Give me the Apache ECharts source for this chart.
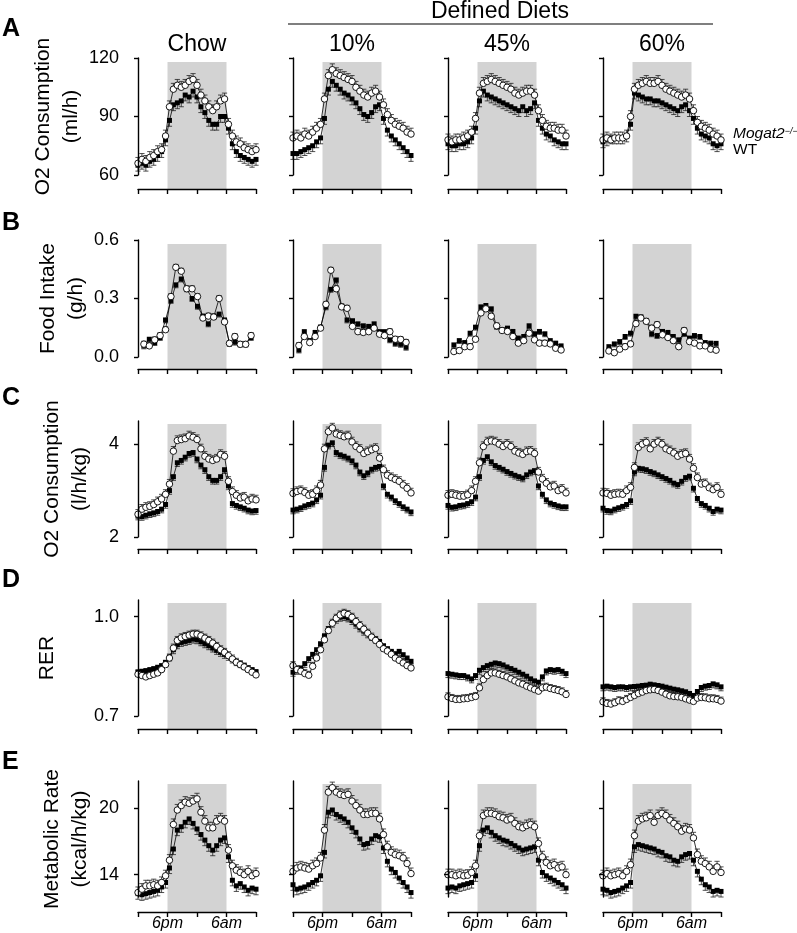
<!DOCTYPE html>
<html>
<head>
<meta charset="utf-8">
<script src="https://cdn.jsdelivr.net/npm/echarts@6/dist/echarts.min.js"></script>
<style>html,body{margin:0;padding:0;background:#fff;}#chart{width:797px;height:933px;}</style>
</head>
<body>
<div id="chart"></div>
<script>
// ---------------- DATA ----------------
const dietNames = ['Chow', '10%', '45%', '60%'];
const groupNames = ['Mogat2\u2212/\u2212', 'WT'];
const darkPeriod = [6, 18];            // hours after 12pm (6pm .. 6am)
const xTickValues = [0, 6, 12, 18, 24];
const xLabelValues = [6, 18];
const xLabelTexts = ['6pm', '6am'];

const hoursMet = [0, 0.8, 1.6, 2.4, 3.2, 4, 4.8, 5.6, 6.4, 7.2, 8, 8.8, 9.6, 10.4, 11.2, 12, 12.8, 13.6, 14.4, 15.2, 16, 16.8, 17.6, 18.4, 19.2, 20, 20.8, 21.6, 22.4, 23.2, 24];
const hoursFood = [1.2, 2.3, 3.4, 4.5, 5.6, 6.7, 7.7, 8.8, 9.9, 11.0, 12.1, 13.2, 14.3, 15.4, 16.5, 17.6, 18.6, 19.7, 20.8, 21.9, 23.0];

// A: O2 consumption (ml/h)
const o2ml_chow_ko = [66, 68, 67, 69, 70, 72, 73, 80, 95, 104, 106, 105, 106, 108, 109, 106, 101, 98, 95, 93, 95, 98, 99, 86, 80, 77, 76, 74, 73, 72, 73];
const o2ml_chow_wt = [65, 66, 65, 67, 68, 70, 72, 78, 88, 96, 97, 98, 101, 100, 103, 100, 95, 92, 88, 86, 86, 90, 90, 84, 76, 72, 70, 69, 68, 67, 68];
const o2ml_10_ko = [79, 80, 79, 81, 80, 82, 84, 86, 99, 111, 114, 112, 111, 110, 109, 108, 105, 103, 101, 100, 102, 103, 100, 96, 91, 88, 86, 85, 84, 82, 81];
const o2ml_10_wt = [71, 71, 72, 73, 74, 75, 77, 79, 89, 104, 108, 106, 104, 102, 101, 99, 97, 94, 91, 90, 92, 95, 96, 89, 83, 80, 78, 76, 74, 72, 70];
const o2ml_45_ko = [78, 77, 78, 78, 79, 80, 82, 89, 102, 107, 108, 109, 108, 107, 106, 105, 104, 102, 101, 102, 103, 103, 101, 93, 88, 85, 84, 84, 83, 83, 80];
const o2ml_45_wt = [76, 75, 75, 76, 76, 77, 79, 84, 98, 103, 101, 100, 99, 98, 97, 96, 95, 94, 93, 95, 93, 94, 97, 88, 84, 81, 80, 78, 77, 76, 76];
const o2ml_60_ko = [78, 79, 78, 79, 79, 79, 80, 90, 104, 106, 107, 108, 107, 107, 108, 106, 104, 103, 102, 101, 100, 101, 99, 93, 87, 85, 84, 83, 81, 80, 78];
const o2ml_60_wt = [77, 78, 79, 79, 79, 79, 80, 86, 102, 101, 100, 99, 99, 98, 98, 97, 96, 95, 94, 93, 95, 96, 93, 89, 84, 81, 80, 79, 76, 75, 76];

// B: Food intake (g/h)
const food_chow_ko = [0.066, 0.057, 0.088, 0.11, 0.14, 0.31, 0.46, 0.44, 0.35, 0.35, 0.31, 0.20, 0.21, 0.205, 0.30, 0.18, 0.07, 0.105, 0.065, 0.065, 0.11];
const food_chow_wt = [0.057, 0.091, 0.074, 0.10, 0.19, 0.29, 0.37, 0.40, 0.35, 0.30, 0.26, 0.21, 0.17, 0.21, 0.22, 0.19, 0.07, 0.076, 0.067, 0.067, 0.10];
const food_10_ko = [0.059, 0.105, 0.074, 0.105, 0.148, 0.27, 0.445, 0.35, 0.257, 0.25, 0.157, 0.13, 0.126, 0.13, 0.148, 0.117, 0.11, 0.13, 0.091, 0.09, 0.075];
const food_10_wt = [0.036, 0.13, 0.084, 0.126, 0.153, 0.257, 0.347, 0.395, 0.26, 0.19, 0.186, 0.17, 0.16, 0.157, 0.17, 0.13, 0.13, 0.088, 0.07, 0.065, 0.05];
const food_45_ko = [0.028, 0.033, 0.053, 0.053, 0.091, 0.226, 0.247, 0.209, 0.16, 0.136, 0.131, 0.105, 0.071, 0.084, 0.122, 0.088, 0.071, 0.071, 0.067, 0.045, 0.036];
const food_45_wt = [0.062, 0.084, 0.074, 0.122, 0.153, 0.257, 0.264, 0.247, 0.157, 0.14, 0.148, 0.131, 0.097, 0.105, 0.16, 0.119, 0.131, 0.119, 0.084, 0.071, 0.057];
const food_60_ko = [0.031, 0.022, 0.04, 0.053, 0.067, 0.171, 0.2, 0.183, 0.148, 0.166, 0.114, 0.1, 0.084, 0.053, 0.136, 0.079, 0.071, 0.057, 0.057, 0.04, 0.035];
const food_60_wt = [0.053, 0.067, 0.079, 0.105, 0.122, 0.209, 0.205, 0.186, 0.119, 0.11, 0.131, 0.126, 0.105, 0.088, 0.12, 0.097, 0.11, 0.105, 0.074, 0.071, 0.07];

// C: O2 consumption (l/h/kg)
const o2kg_chow_ko = [2.49, 2.6, 2.64, 2.66, 2.7, 2.76, 2.82, 2.92, 3.14, 3.85, 4.08, 4.1, 4.12, 4.18, 4.15, 4.1, 3.9, 3.74, 3.68, 3.65, 3.68, 3.78, 3.74, 3.2, 2.98, 2.9, 2.84, 2.86, 2.78, 2.82, 2.8];
const o2kg_chow_wt = [2.45, 2.44, 2.47, 2.5, 2.52, 2.55, 2.6, 2.7, 3.0, 3.3, 3.6, 3.65, 3.72, 3.8, 3.82, 3.68, 3.55, 3.45, 3.3, 3.22, 3.22, 3.3, 3.45, 3.1, 2.72, 2.68, 2.65, 2.62, 2.58, 2.56, 2.57];
const o2kg_10_ko = [2.94, 2.98, 3.0, 2.96, 2.9, 2.92, 3.0, 3.12, 3.9, 4.27, 4.35, 4.22, 4.19, 4.16, 4.18, 4.05, 3.95, 3.89, 3.8, 3.84, 3.88, 3.91, 3.7, 3.45, 3.33, 3.28, 3.24, 3.2, 3.12, 3.05, 2.95];
const o2kg_10_wt = [2.58, 2.6, 2.63, 2.67, 2.7, 2.73, 2.8, 2.9, 3.5, 3.98, 4.03, 3.82, 3.77, 3.74, 3.7, 3.64, 3.55, 3.4, 3.32, 3.38, 3.46, 3.5, 3.52, 3.1, 2.92, 2.86, 2.78, 2.72, 2.65, 2.6, 2.54];
const o2kg_45_ko = [2.9, 2.92, 2.9, 2.88, 2.88, 2.91, 3.0, 3.2, 3.6, 3.95, 4.05, 4.07, 4.05, 4.0, 3.95, 4.0, 3.95, 3.85, 3.81, 3.78, 3.84, 3.85, 3.8, 3.4, 3.25, 3.16, 3.08, 3.1, 3.0, 3.03, 2.95];
const o2kg_45_wt = [2.68, 2.64, 2.65, 2.68, 2.69, 2.72, 2.76, 2.86, 3.3, 3.65, 3.73, 3.62, 3.54, 3.5, 3.46, 3.41, 3.37, 3.33, 3.3, 3.27, 3.34, 3.4, 3.43, 3.1, 2.92, 2.8, 2.73, 2.7, 2.67, 2.65, 2.65];
const o2kg_60_ko = [2.95, 2.94, 2.9, 2.92, 2.93, 2.92, 3.0, 3.07, 3.5, 3.93, 4.0, 4.04, 3.9, 4.0, 4.05, 4.0, 3.9, 3.86, 3.81, 3.74, 3.78, 3.8, 3.68, 3.48, 3.28, 3.14, 3.15, 3.06, 3.02, 3.07, 2.92];
const o2kg_60_wt = [2.62, 2.57, 2.56, 2.6, 2.63, 2.66, 2.7, 2.78, 3.4, 3.48, 3.47, 3.45, 3.41, 3.38, 3.34, 3.3, 3.26, 3.22, 3.16, 3.13, 3.2, 3.28, 3.31, 3.05, 2.83, 2.72, 2.68, 2.62, 2.55, 2.6, 2.58];

// D: RER
const rer_chow_ko = [0.826, 0.822, 0.818, 0.822, 0.826, 0.83, 0.84, 0.855, 0.875, 0.905, 0.928, 0.936, 0.94, 0.944, 0.947, 0.947, 0.942, 0.935, 0.928, 0.92, 0.91, 0.9, 0.892, 0.882, 0.872, 0.862, 0.855, 0.848, 0.84, 0.832, 0.824];
const rer_chow_wt = [0.833, 0.835, 0.837, 0.84, 0.843, 0.847, 0.852, 0.862, 0.878, 0.9, 0.915, 0.922, 0.925, 0.928, 0.932, 0.93, 0.924, 0.918, 0.912, 0.905, 0.898, 0.892, 0.886, 0.88, 0.872, 0.864, 0.858, 0.852, 0.845, 0.84, 0.834];
const rer_10_ko = [0.852, 0.84, 0.835, 0.828, 0.823, 0.85, 0.875, 0.9, 0.93, 0.958, 0.98, 0.995, 1.005, 1.01, 1.006, 0.998, 0.985, 0.973, 0.962, 0.95, 0.938, 0.928, 0.916, 0.903, 0.896, 0.886, 0.875, 0.868, 0.86, 0.852, 0.845];
const rer_10_wt = [0.832, 0.838, 0.845, 0.858, 0.873, 0.886, 0.9, 0.918, 0.942, 0.963, 0.98, 0.992, 0.998, 1.0, 0.996, 0.988, 0.977, 0.966, 0.956, 0.948, 0.94, 0.932, 0.925, 0.912, 0.903, 0.895, 0.888, 0.895, 0.885, 0.875, 0.865];
const rer_45_ko = [0.758, 0.753, 0.75, 0.75, 0.752, 0.753, 0.756, 0.759, 0.785, 0.81, 0.822, 0.83, 0.83, 0.826, 0.822, 0.818, 0.812, 0.806, 0.8, 0.796, 0.79, 0.785, 0.78, 0.775, 0.785, 0.787, 0.783, 0.78, 0.777, 0.773, 0.765];
const rer_45_wt = [0.828, 0.826, 0.824, 0.822, 0.822, 0.818, 0.812, 0.822, 0.838, 0.846, 0.852, 0.856, 0.86, 0.858, 0.854, 0.848, 0.843, 0.838, 0.832, 0.826, 0.82, 0.812, 0.806, 0.802, 0.818, 0.836, 0.84, 0.838, 0.84, 0.835, 0.828];
const rer_60_ko = [0.743, 0.738, 0.736, 0.74, 0.746, 0.744, 0.75, 0.756, 0.762, 0.768, 0.772, 0.777, 0.779, 0.78, 0.777, 0.772, 0.766, 0.761, 0.759, 0.758, 0.756, 0.752, 0.748, 0.744, 0.754, 0.756, 0.755, 0.752, 0.752, 0.75, 0.745];
const rer_60_wt = [0.788, 0.79, 0.788, 0.786, 0.788, 0.788, 0.786, 0.788, 0.789, 0.79, 0.792, 0.793, 0.796, 0.794, 0.792, 0.79, 0.787, 0.784, 0.781, 0.779, 0.776, 0.773, 0.768, 0.762, 0.774, 0.786, 0.79, 0.792, 0.797, 0.794, 0.788];

// E: Metabolic rate (kcal/h/kg)
const mr_chow_ko = [12.4, 12.7, 13.0, 13.0, 13.1, 13.0, 13.3, 13.9, 15.3, 18.5, 19.8, 20.2, 20.5, 20.4, 20.6, 20.8, 19.6, 18.8, 18.2, 18.2, 18.8, 19.0, 18.8, 16.2, 14.8, 14.4, 14.2, 14.0, 14.3, 13.9, 14.1];
const mr_chow_wt = [12.3, 12.2, 12.3, 12.4, 12.5, 12.6, 12.9, 13.3, 14.6, 16.3, 18.0, 18.3, 18.7, 19.0, 18.6, 18.1, 17.6, 17.1, 16.6, 16.2, 16.6, 17.1, 17.3, 15.6, 13.5, 13.0, 13.2, 12.9, 12.6, 12.8, 12.7];
const mr_10_ko = [14.3, 14.6, 14.7, 14.6, 14.5, 14.8, 15.0, 15.5, 18.0, 21.4, 21.8, 21.4, 21.2, 21.1, 21.2, 20.6, 20.2, 19.8, 19.4, 19.4, 19.5, 19.5, 19.0, 17.6, 16.5, 16.0, 15.8, 15.7, 15.5, 15.0, 14.1];
const mr_10_wt = [13.1, 12.7, 12.8, 12.9, 13.1, 13.3, 13.5, 13.9, 16.0, 19.6, 19.8, 19.4, 19.2, 19.0, 18.7, 18.2, 17.8, 17.2, 16.7, 16.8, 17.2, 17.5, 17.4, 16.4, 15.2, 14.5, 14.2, 13.7, 13.3, 12.9, 12.4];
const mr_45_ko = [14.0, 14.0, 13.9, 14.0, 13.9, 13.95, 14.2, 14.8, 17.5, 19.3, 19.5, 19.5, 19.4, 19.2, 19.1, 18.9, 19.0, 18.6, 18.3, 18.2, 18.4, 18.5, 18.3, 16.8, 15.6, 15.1, 14.8, 14.9, 14.6, 14.7, 14.0];
const mr_45_wt = [12.8, 12.9, 12.8, 13.0, 13.1, 13.2, 13.3, 13.9, 16.6, 18.0, 18.2, 17.8, 17.5, 17.3, 17.1, 17.0, 16.8, 16.6, 16.4, 16.2, 16.3, 16.4, 16.5, 15.3, 14.2, 13.9, 13.7, 13.5, 13.3, 13.1, 12.8];
const mr_60_ko = [13.9, 14.1, 13.9, 14.0, 14.1, 13.9, 14.3, 14.9, 17.5, 18.8, 19.0, 19.1, 19.3, 18.7, 19.3, 19.5, 19.3, 18.9, 18.6, 18.3, 17.9, 18.1, 18.0, 17.3, 15.8, 15.2, 15.0, 14.7, 14.3, 14.7, 14.2];
const mr_60_wt = [12.7, 12.6, 12.4, 12.5, 12.6, 12.8, 13.0, 13.3, 16.5, 16.7, 16.6, 16.5, 16.4, 16.3, 16.1, 16.0, 15.7, 15.6, 15.3, 15.2, 15.6, 15.8, 15.9, 15.3, 14.3, 13.6, 13.1, 12.9, 12.5, 12.6, 12.5];

// typical SEM per row [WT, Mogat2-/-]
const semA = [3, 3];
const semB = [0.015, 0.015];
const semC = [0.08, 0.1];
const semD = [0.012, 0.012];
const semE = [0.5, 0.5];

// ---------------- LAYOUT / STYLE ----------------
const FONT = '"Liberation Sans", Arial, Helvetica, sans-serif';
const colX = [138, 293, 448, 603];
const plotW = 118;
const yAxisGap = 12;
const rowBoxes = [
  {top: 58, bottom: 175, shadeTop: 62, axisY: 189, letterY: 29},
  {top: 240, bottom: 357, shadeTop: 244, axisY: 369, letterY: 223},
  {top: 421, bottom: 537, shadeTop: 424, axisY: 549, letterY: 398},
  {top: 600, bottom: 716, shadeTop: 603, axisY: 729, letterY: 580},
  {top: 781, bottom: 897, shadeTop: 784, axisY: 912, letterY: 762}
];

const rows = [
  {letter: 'A', name: 'O2 Consumption\n(ml/h)', nameGap: 32, min: 60, max: 120, ticks: [60, 90, 120], digits: 0, hours: hoursMet, sem: semA,
   ko: [o2ml_chow_ko, o2ml_10_ko, o2ml_45_ko, o2ml_60_ko], wt: [o2ml_chow_wt, o2ml_10_wt, o2ml_45_wt, o2ml_60_wt]},
  {letter: 'B', name: 'Food Intake\n(g/h)', nameGap: 32, min: 0, max: 0.6, ticks: [0, 0.3, 0.6], digits: 1, hours: hoursFood, sem: semB,
   ko: [food_chow_ko, food_10_ko, food_45_ko, food_60_ko], wt: [food_chow_wt, food_10_wt, food_45_wt, food_60_wt]},
  {letter: 'C', name: 'O2 Consumption\n(l/h/kg)', nameGap: 32, min: 2, max: 4.5, ticks: [2, 4], digits: 0, hours: hoursMet, sem: semC,
   ko: [o2kg_chow_ko, o2kg_10_ko, o2kg_45_ko, o2kg_60_ko], wt: [o2kg_chow_wt, o2kg_10_wt, o2kg_45_wt, o2kg_60_wt]},
  {letter: 'D', name: 'RER', nameGap: 65, min: 0.7, max: 1.05, ticks: [0.7, 1.0], digits: 1, hours: hoursMet, sem: semD,
   ko: [rer_chow_ko, rer_10_ko, rer_45_ko, rer_60_ko], wt: [rer_chow_wt, rer_10_wt, rer_45_wt, rer_60_wt]},
  {letter: 'E', name: 'Metabolic Rate\n(kcal/h/kg)', nameGap: 32, min: 12, max: 22.4, ticks: [14, 20], digits: 0, hours: hoursMet, sem: semE,
   ko: [mr_chow_ko, mr_10_ko, mr_45_ko, mr_60_ko], wt: [mr_chow_wt, mr_10_wt, mr_45_wt, mr_60_wt]}
];

const axisLineStyle = {color: '#000', width: 1.4};

function errorSeries(idx, xs, ys, err, dir) {
  return {
    type: 'custom', xAxisIndex: idx, yAxisIndex: idx, silent: true, z: 3,
    data: xs.map((x, i) => [x, ys[i], err]),
    renderItem: function (params, api) {
      const x = api.value(0), y = api.value(1), e = api.value(2);
      const p0 = api.coord([x, y]);
      const p1 = api.coord([x, y + dir * e]);
      const st = {stroke: '#222', lineWidth: 0.8};
      return {type: 'group', children: [
        {type: 'line', shape: {x1: p0[0], y1: p0[1], x2: p1[0], y2: p1[1]}, style: st},
        {type: 'line', shape: {x1: p1[0] - 2.6, y1: p1[1], x2: p1[0] + 2.6, y2: p1[1]}, style: st}
      ]};
    }
  };
}

const grids = [], xAxes = [], yAxes = [], series = [];
rows.forEach((row, r) => {
  const box = rowBoxes[r];
  dietNames.forEach((diet, c) => {
    const di = grids.length;       // data grid
    const bi = di + 1;             // background (dark period + x axis) grid
    grids.push({left: colX[c], top: box.top, width: plotW, height: box.bottom - box.top});
    grids.push({left: colX[c], top: box.shadeTop, width: plotW, height: box.axisY - box.shadeTop});

    xAxes.push({gridIndex: di, type: 'value', min: 0, max: 24, show: false});
    xAxes.push({
      gridIndex: bi, type: 'value', min: 0, max: 24, z: 10,
      axisLine: {show: true, lineStyle: axisLineStyle},
      axisTick: {show: true, inside: false, length: 5, customValues: xTickValues, lineStyle: axisLineStyle},
      axisLabel: {show: r === rows.length - 1, customValues: xLabelValues, margin: 4,
        formatter: v => xLabelTexts[xLabelValues.indexOf(v)],
        fontFamily: FONT, fontSize: 16, fontStyle: 'italic', color: '#000'},
      splitLine: {show: false}
    });

    yAxes.push({
      gridIndex: di, type: 'value', min: row.min, max: row.max, position: 'left', offset: yAxisGap, z: 10,
      axisLine: {show: true, lineStyle: axisLineStyle},
      axisTick: {show: true, inside: false, length: 4, customValues: row.ticks, lineStyle: axisLineStyle},
      axisLabel: {show: c === 0, customValues: row.ticks, margin: 7,
        formatter: v => Number(v).toFixed(row.digits),
        fontFamily: FONT, fontSize: 18, color: '#000'},
      splitLine: {show: false},
      name: c === 0 ? row.name : '',
      nameLocation: 'middle', nameRotate: 90, nameGap: row.nameGap,
      nameTextStyle: {fontFamily: FONT, fontSize: 21, lineHeight: 28, color: '#000', align: 'center'}
    });
    yAxes.push({gridIndex: bi, type: 'value', min: 0, max: 1, show: false});

    // dark period shading
    series.push({
      type: 'line', xAxisIndex: bi, yAxisIndex: bi, silent: true, z: 0,
      data: darkPeriod.map(x => [x, 0]), symbol: 'none', lineStyle: {opacity: 0},
      markArea: {silent: true, itemStyle: {color: '#d3d3d3'},
        data: [[{xAxis: darkPeriod[0]}, {xAxis: darkPeriod[1]}]]}
    });

    const wt = row.wt[c], ko = row.ko[c], xs = row.hours;
    series.push(errorSeries(di, xs, wt, row.sem[0], -1));
    series.push({
      name: groupNames[1], type: 'line', xAxisIndex: di, yAxisIndex: di, silent: true, z: 4,
      data: xs.map((x, i) => [x, wt[i]]),
      symbol: 'rect', symbolSize: 5, showSymbol: true,
      itemStyle: {color: '#000'}, lineStyle: {color: '#000', width: 0.8}
    });
    series.push(errorSeries(di, xs, ko, row.sem[1], 1));
    series.push({
      name: groupNames[0], type: 'line', xAxisIndex: di, yAxisIndex: di, silent: true, z: 5,
      data: xs.map((x, i) => [x, ko[i]]),
      symbol: 'circle', symbolSize: 6.5, showSymbol: true,
      itemStyle: {color: '#fff', borderColor: '#000', borderWidth: 0.9},
      lineStyle: {color: '#000', width: 0.8}
    });
  });
});

const graphics = [];
rows.forEach((row, r) => {
  graphics.push({type: 'text', x: 2, y: rowBoxes[r].letterY,
    style: {text: row.letter, fontFamily: FONT, fontSize: 25, fontWeight: 'bold', fill: '#000', align: 'left', verticalAlign: 'middle'}});
});
dietNames.forEach((d, c) => {
  graphics.push({type: 'text', x: colX[c] + plotW / 2, y: 45,
    style: {text: d, fontFamily: FONT, fontSize: 23, fill: '#000', align: 'center', verticalAlign: 'middle'}});
});
graphics.push({type: 'text', x: 500, y: 12,
  style: {text: 'Defined Diets', fontFamily: FONT, fontSize: 23, fill: '#000', align: 'center', verticalAlign: 'middle'}});
graphics.push({type: 'line', shape: {x1: 288, y1: 24, x2: 713, y2: 24}, style: {stroke: '#000', lineWidth: 1.2}});

const chart = echarts.init(document.getElementById('chart'), null, {renderer: 'canvas'});
chart.setOption({
  animation: false,
  backgroundColor: '#fff',
  grid: grids,
  xAxis: xAxes,
  yAxis: yAxes,
  series: series,
  graphic: graphics,
  legend: {
    orient: 'vertical', left: 727, top: 126, itemGap: 0, itemWidth: 0, itemHeight: 0, padding: 0,
    selectedMode: false, data: groupNames,
    formatter: n => n === 'WT' ? '{n|WT}' : '{it|Mogat2}{sup|\u2212/\u2212}',
    textStyle: {fontFamily: FONT, fontSize: 15.5, color: '#000',
      rich: {
        n: {fontFamily: FONT, fontSize: 15.5, lineHeight: 15, color: '#000'},
        it: {fontFamily: FONT, fontSize: 15.5, fontStyle: 'italic', lineHeight: 15, color: '#000'},
        sup: {fontFamily: FONT, fontSize: 9, fontStyle: 'italic', verticalAlign: 'top', lineHeight: 15, color: '#000'}
      }}
  }
});
</script>
</body>
</html>
